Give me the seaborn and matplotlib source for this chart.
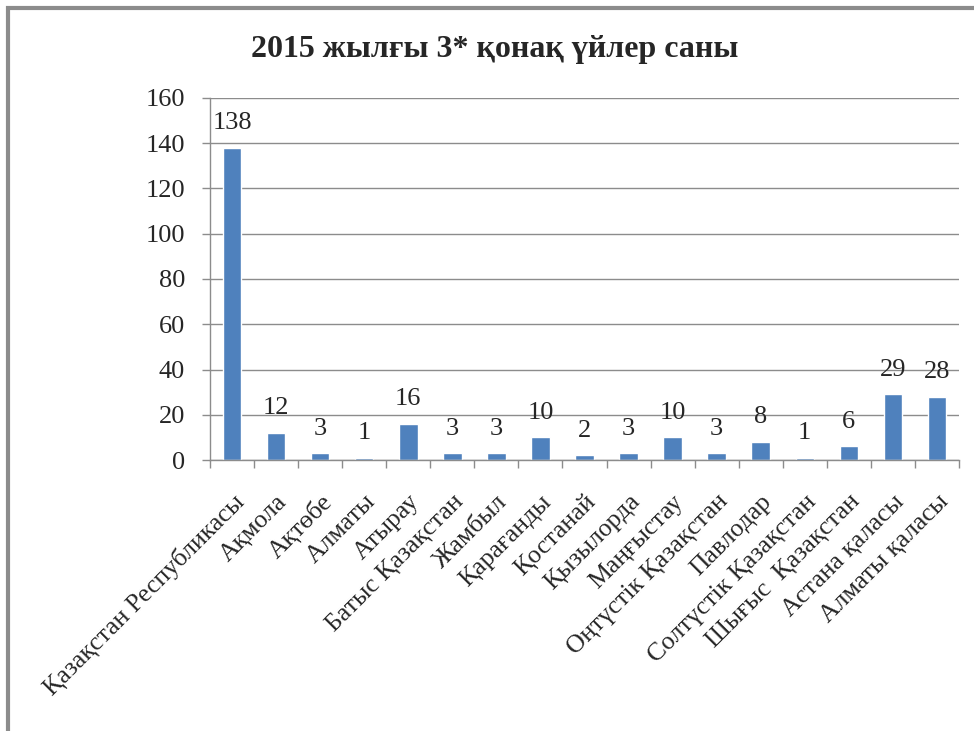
import numpy as np
import seaborn as sns
import matplotlib.pyplot as plt
from matplotlib.patches import Rectangle

# data
regions = ['Қазақстан Республикасы', 'Ақмола', 'Ақтөбе', 'Алматы', 'Атырау',
           'Батыс Қазақстан', 'Жамбыл', 'Қарағанды', 'Қостанай', 'Қызылорда',
           'Маңғыстау', 'Оңтүстік Қазақстан', 'Павлодар', 'Солтүстік Қазақстан',
           'Шығыс  Қазақстан', 'Астана қаласы', 'Алматы қаласы']
hotels = [138, 12, 3, 1, 16, 3, 3, 10, 2, 3, 10, 3, 8, 1, 6, 29, 28]
y_ticks = [0, 20, 40, 60, 80, 100, 120, 140, 160]

sns.set_style('white')
plt.rcParams['font.family'] = ['Liberation Serif', 'DejaVu Serif']

fig = plt.figure(figsize=(9.74, 7.31), dpi=100)
ax = fig.add_axes([0.2156, 0.3707, 0.769, 0.4953])

sns.barplot(x=regions, y=hotels, color='#4F81BD', width=0.42, saturation=1, ax=ax)

#value labels on top of bars
for i, v in enumerate(hotels):
    ax.text(i, v + 6, str(v), ha='center', va='bottom', fontsize=19)

ax.set_ylim(0, 160)
ax.set_xlim(-0.5, len(regions) - 0.5)
ax.set_yticks(y_ticks)
ax.set_yticklabels([str(t) for t in y_ticks], fontsize=19)
ax.yaxis.grid(True, color='#8c8c8c', linewidth=1)
ax.set_axisbelow(True)

#category separators as ticks, labels at centres
ax.set_xticks(np.arange(len(regions)))
ax.set_xticklabels(regions, rotation=45, ha='right', rotation_mode='anchor', fontsize=18.5)
ax.set_xticks(np.arange(-0.5, len(regions)), minor=True)
ax.tick_params(axis='x', which='major', length=0, pad=22)
ax.tick_params(axis='x', which='minor', length=6, color='#8c8c8c', width=1, bottom=True)
ax.tick_params(axis='y', length=6, color='#8c8c8c', width=1, left=True, pad=12)

for side in ['top', 'right']:
    ax.spines[side].set_visible(False)
for side in ['left', 'bottom']:
    ax.spines[side].set_color('#8c8c8c')
    ax.spines[side].set_linewidth(1)

fig.text(0.508, 0.932, '2015 жылғы 3* қонақ үйлер саны', ha='center', va='center',
         fontsize=23, fontweight='bold')

#chart frame
fig.patches.append(Rectangle((8 / 974, -0.1), 1.2, 1.1 - 8 / 731, transform=fig.transFigure,
                             fill=False, edgecolor='#8c8c8c', linewidth=3))

fig.savefig('out.png', dpi=100)
